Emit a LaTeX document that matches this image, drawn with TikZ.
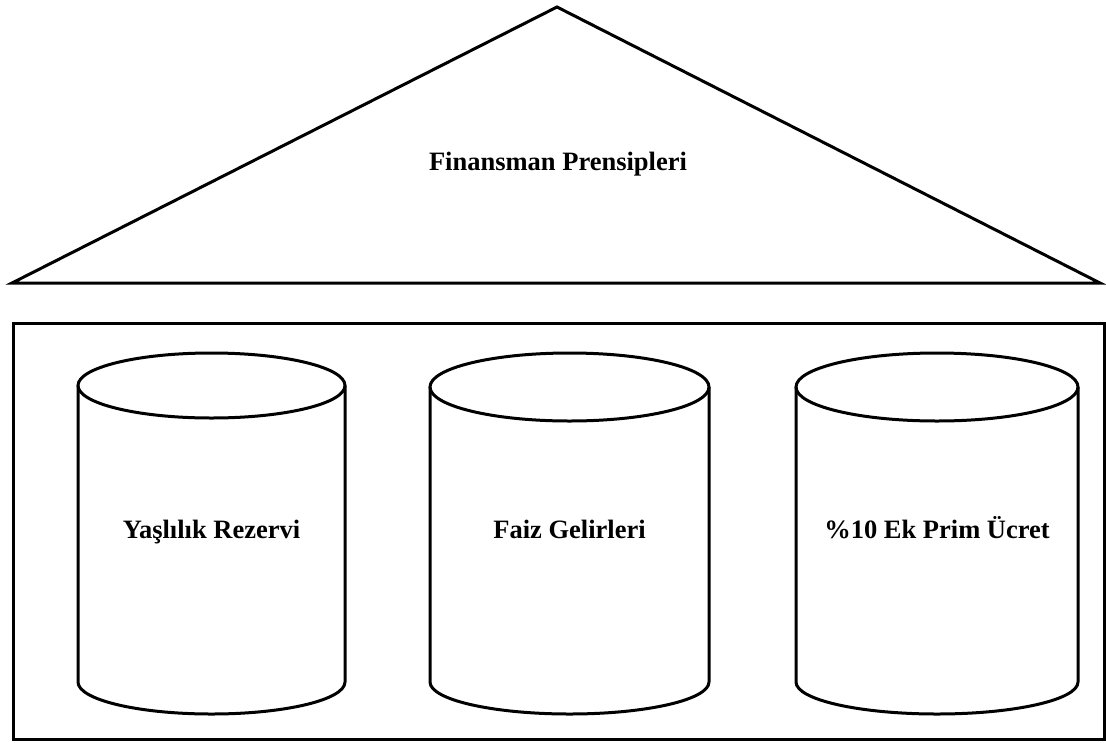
\documentclass[tikz,border=0pt]{standalone}
\usepackage{fontspec}
\setmainfont{Liberation Serif}
\begin{document}
\begin{tikzpicture}[x=1pt,y=-1pt,
  outline/.style={draw=black,line width=3pt},
  lbl/.style={font=\fontsize{26.5}{30}\selectfont\bfseries,inner sep=0pt,anchor=base}]
\useasboundingbox (0,0) rectangle (1106,742);
% roof
\draw[outline,line join=miter] (12,283) -- (557,7) -- (1100,283) -- cycle;
\node[lbl] (roof) at (558,170) {Finansman Prensipleri};
% frame
\draw[outline] (13,323) rectangle (1104,739);
% cylinders
\foreach \cx/\rx/\ty/\ry in {211.5/133.5/385.5/32.5, 569.5/139.5/387/34, 937/141/387/34}{
  \draw[outline,line join=round] (\cx-\rx,\ty) -- (\cx-\rx,682) arc[start angle=180,end angle=360,x radius=\rx,y radius=-32] -- (\cx+\rx,\ty);
  \draw[outline] (\cx,\ty) ellipse[x radius=\rx,y radius=\ry];
}
\node[lbl] (c1) at (211.5,538) {Yaşlılık Rezervi};
\node[lbl] (c2) at (569.5,538) {Faiz Gelirleri};
\node[lbl] (c3) at (937,538) {\%10 Ek Prim Ücret};
\end{tikzpicture}
\end{document}
